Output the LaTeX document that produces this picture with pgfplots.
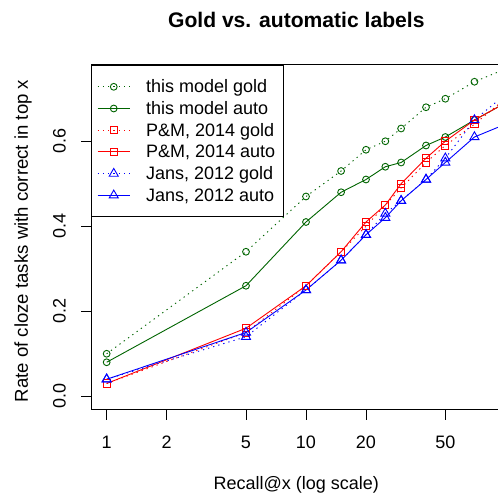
\documentclass[border=0pt]{standalone}
\usepackage{fontspec}
\setmainfont{Liberation Sans}
\usepackage{pgfplots}
\usepackage{pgfplotstable}
\pgfplotsset{compat=1.18}
\newcommand\ff{\fontsize{18bp}{21bp}\selectfont}
\newcommand\lt[1]{\makebox[132.4bp][l]{#1}}
\definecolor{dg}{RGB}{0,100,0}
\pgfplotstableread{
x    gg    ga    pg    pa    jg    ja
1    0.10  0.08  0.03  0.03  0.04  0.04
5    0.34  0.26  0.15  0.16  0.14  0.15
10   0.47  0.41  0.26  0.26  0.25  0.25
15   0.53  0.48  0.34  0.34  0.32  0.32
20   0.58  0.51  0.40  0.41  0.38  0.38
25   0.60  0.54  0.45  0.45  0.43  0.42
30   0.63  0.55  0.49  0.50  0.46  0.46
40   0.68  0.59  0.55  0.56  0.51  0.51
50   0.70  0.61  0.59  0.60  0.56  0.55
70   0.74  0.65  0.64  0.65  0.65  0.61
100  0.77  0.69  0.70  0.69  0.71  0.64
}\data
\begin{document}
\begin{tikzpicture}
\begin{axis}[
 at={(0,0)}, anchor=south west,
 scale only axis, width=409.7bp, height=344.25bp,
 xmode=log, xmin=0.8394, xmax=95.33, ymin=-0.03, ymax=0.78,
 xtick={1,2,5,10,20,50}, xticklabels={1,2,5,10,20,50},
 ytick={0,0.2,0.4,0.6}, yticklabels={0.0,0.2,0.4,0.6},
 minor xtick={}, minor ytick={},
 xtick pos=left, ytick pos=left,
 tick align=outside, major tick length=10.5bp,
 tick style={black, line width=0.9bp},
 axis line style={black, line width=0.9bp},
 ticklabel style={font=\ff},
 /pgf/number format/assume math mode=true,
 xticklabel style={anchor=north, inner sep=0pt, yshift=-16bp},
 yticklabel style={xshift=-15.3bp, rotate=90, anchor=base, inner sep=0pt},
 legend style={at={(0,1)}, anchor=north west, draw=black, line width=0.9bp,
   fill=white, font=\ff, inner xsep=5.2bp, inner ysep=15.6bp, row sep=9.7bp,
   column sep=15.7bp, nodes={inner sep=0pt, text height=12bp, text depth=0bp}},
 legend cell align=left,
 legend image code/.code={\draw[mark repeat=2, mark phase=2, #1] plot coordinates {(0bp,0bp) (16.15bp,0bp) (32.3bp,0bp)};},
 every axis plot/.append style={line width=0.9bp, mark options={solid}},
 clip=true,
]
\addplot[dg, dash pattern=on 1.3bp off 4bp, mark=o, mark size=3.4bp] table[x=x,y=gg]{\data};
\addlegendentry{\lt{this model gold}}
\addplot[dg, mark=o, mark size=3.4bp] table[x=x,y=ga]{\data};
\addlegendentry{\lt{this model auto}}
\addplot[red, dash pattern=on 1.3bp off 4bp, mark=square, mark size=3.6bp] table[x=x,y=pg]{\data};
\addlegendentry{\lt{P\&M, 2014 gold}}
\addplot[red, mark=square, mark size=3.6bp] table[x=x,y=pa]{\data};
\addlegendentry{\lt{P\&M, 2014 auto}}
\addplot[blue, dash pattern=on 1.3bp off 4bp, mark=triangle, mark size=5.2bp] table[x=x,y=jg]{\data};
\addlegendentry{\lt{Jans, 2012 gold}}
\addplot[blue, mark=triangle, mark size=5.2bp] table[x=x,y=ja]{\data};
\addlegendentry{\lt{Jans, 2012 auto}}
\end{axis}
\node[anchor=base, font=\fontsize{21.1bp}{25bp}\selectfont\bfseries] at (204.8bp,381.7bp) {Gold vs. automatic labels};
\node[anchor=base, font=\ff] at (204.8bp,-80.5bp) {Recall@x (log scale)};
\node[anchor=base, rotate=90, font=\fontsize{18.6bp}{22bp}\selectfont] at (-63.5bp,168bp) {Rate of cloze tasks with correct in top x};
\pgfresetboundingbox
\path[use as bounding box] (-91.5bp,-84bp) rectangle (406.5bp,409bp);
\end{tikzpicture}
\end{document}
